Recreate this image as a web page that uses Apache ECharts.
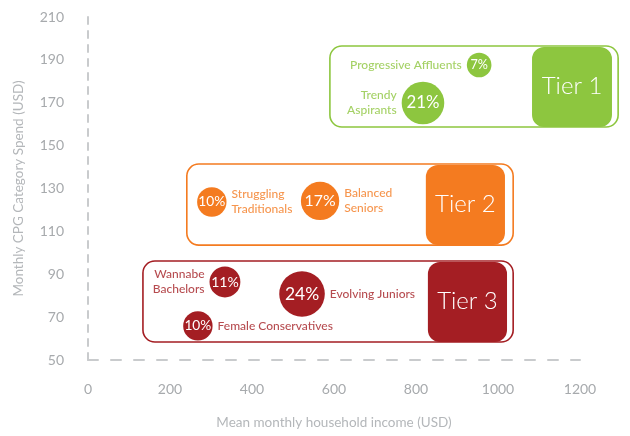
<!DOCTYPE html>
<html>
<head>
<meta charset="utf-8">
<script src="https://cdn.jsdelivr.net/npm/echarts@6/dist/echarts.min.js"></script>
<style>
  html, body { margin: 0; padding: 0; background: #fff; }
  #chart { width: 630px; height: 436px; }
</style>
</head>
<body>
<div id="chart"></div>
<script>
// axis ticks
const incomeTicks = [0, 200, 400, 600, 800, 1000, 1200];
const spendTicks = [50, 70, 90, 110, 130, 150, 170, 190, 210];

// tier boxes (income / spend ranges, in axis units)
const tierNames = ["Tier 1", "Tier 2", "Tier 3"];
const tierIncomeFrom = [590, 241, 134];
const tierIncomeTo = [1293, 1037, 1037];
const tierSpendLow = [158.7, 103.6, 58.4];
const tierSpendHigh = [196.5, 141.4, 96.2];
const tierBadgeFrom = [1083, 824, 829];
const tierBadgeTo = [1278, 1017, 1022];

// segments
const segmentNames = [
    "Progressive Affluents",
    "Trendy\nAspirants",
    "Struggling\nTraditionals",
    "Balanced\nSeniors",
    "Wannabe\nBachelors",
    "Evolving Juniors",
    "Female Conservatives"
];
const segmentTier = [0, 0, 1, 1, 2, 2, 2];
const segmentIncome = [954, 817, 302, 566, 334, 522, 268];
const segmentSpend = [187.6, 169.9, 123.7, 124.2, 86.4, 80.8, 65.9];
const segmentShare = [7, 21, 10, 17, 11, 24, 10];

const tierColors = ["#8dc63f", "#f47b20", "#a41e23"];
const nameOnLeft = [true, true, false, false, true, false, false];
const FONT = "Lato, 'Open Sans', sans-serif";

const bubbleSize = share => Math.sqrt(share) * 9.3;

const chart = echarts.init(document.getElementById("chart"));

const tierData = tierNames.map((n, i) => [
    tierIncomeFrom[i], tierIncomeTo[i], tierSpendLow[i], tierSpendHigh[i],
    tierBadgeFrom[i], tierBadgeTo[i]
]);

const bubbleData = segmentNames.map((n, i) => {
    const d = bubbleSize(segmentShare[i]);
    return {
        value: [segmentIncome[i], segmentSpend[i], segmentShare[i]],
        symbolSize: d,
        itemStyle: { color: tierColors[segmentTier[i]] },
        label: { fontSize: 7 + d * 0.23 }
    };
});

const nameData = segmentNames.map((n, i) => ({
    value: [segmentIncome[i], segmentSpend[i]],
    symbolSize: bubbleSize(segmentShare[i]),
    name: n,
    label: {
        position: nameOnLeft[i] ? "left" : "right",
        align: nameOnLeft[i] ? "right" : "left",
        color: tierColors[segmentTier[i]]
    }
}));

const option = {
    animation: false,
    grid: { left: 88, right: 50, top: 17, bottom: 76 },
    xAxis: {
        type: "value",
        min: incomeTicks[0],
        max: incomeTicks[incomeTicks.length - 1],
        interval: 200,
        name: "Mean monthly household income (USD)",
        nameLocation: "middle",
        nameGap: 56,
        nameTextStyle: { color: "#b4b7ba", fontSize: 13.5, fontFamily: FONT },
        axisLine: { lineStyle: { color: "#c9cbcd", width: 2, type: [10, 13] } },
        axisTick: { show: false },
        splitLine: { show: false },
        axisLabel: {
            color: "#a7aaad", fontSize: 14, fontFamily: FONT, margin: 22,
            formatter: v => String(v)
        }
    },
    yAxis: {
        type: "value",
        min: spendTicks[0],
        max: spendTicks[spendTicks.length - 1],
        interval: 20,
        name: "Monthly CPG Category Spend (USD)",
        nameLocation: "middle",
        nameGap: 62,
        nameTextStyle: { color: "#b4b7ba", fontSize: 13.5, fontFamily: FONT },
        axisLine: { show: true, lineStyle: { color: "#c9cbcd", width: 2, type: [7, 7] } },
        axisTick: { show: false },
        splitLine: { show: false },
        axisLabel: {
            color: "#a7aaad", fontSize: 14, fontFamily: FONT, margin: 24,
            formatter: v => String(v)
        }
    },
    series: [
        {
            type: "custom",
            clip: false,
            z: 1,
            encode: { x: [0, 1, 4, 5], y: [2, 3] },
            data: tierData,
            renderItem: (params, api) => {
                const i = params.dataIndex;
                const c = tierColors[i];
                const p0 = api.coord([api.value(0), api.value(3)]);
                const p1 = api.coord([api.value(1), api.value(2)]);
                const b0 = api.coord([api.value(4), api.value(3)]);
                const b1 = api.coord([api.value(5), api.value(2)]);
                return {
                    type: "group",
                    children: [
                        {
                            type: "rect",
                            shape: { x: p0[0], y: p0[1], width: p1[0] - p0[0], height: p1[1] - p0[1], r: 12 },
                            style: { fill: "#fff", stroke: c, lineWidth: 1.6 }
                        },
                        {
                            type: "rect",
                            shape: { x: b0[0], y: b0[1] + 1, width: b1[0] - b0[0], height: b1[1] - b0[1] - 1, r: 12 },
                            style: { fill: c }
                        },
                        {
                            type: "text",
                            style: {
                                text: tierNames[i],
                                x: (b0[0] + b1[0]) / 2,
                                y: (b0[1] + b1[1]) / 2,
                                align: "center",
                                verticalAlign: "middle",
                                fill: "#fff",
                                fontSize: 24,
                                fontWeight: 300,
                                fontFamily: FONT
                            }
                        }
                    ]
                };
            }
        },
        {
            type: "scatter",
            z: 3,
            data: bubbleData,
            itemStyle: { opacity: 1 },
            label: {
                show: true,
                position: "inside",
                color: "#fff",
                fontFamily: FONT,
                formatter: p => p.value[2] + "%"
            }
        },
        {
            type: "scatter",
            z: 2,
            data: nameData,
            itemStyle: { color: "rgba(0,0,0,0)" },
            label: {
                show: true,
                distance: 5,
                fontSize: 12,
                lineHeight: 15,
                fontFamily: FONT,
                fontWeight: 500,
                formatter: p => p.name
            }
        }
    ]
};

chart.setOption(option);
</script>
</body>
</html>
